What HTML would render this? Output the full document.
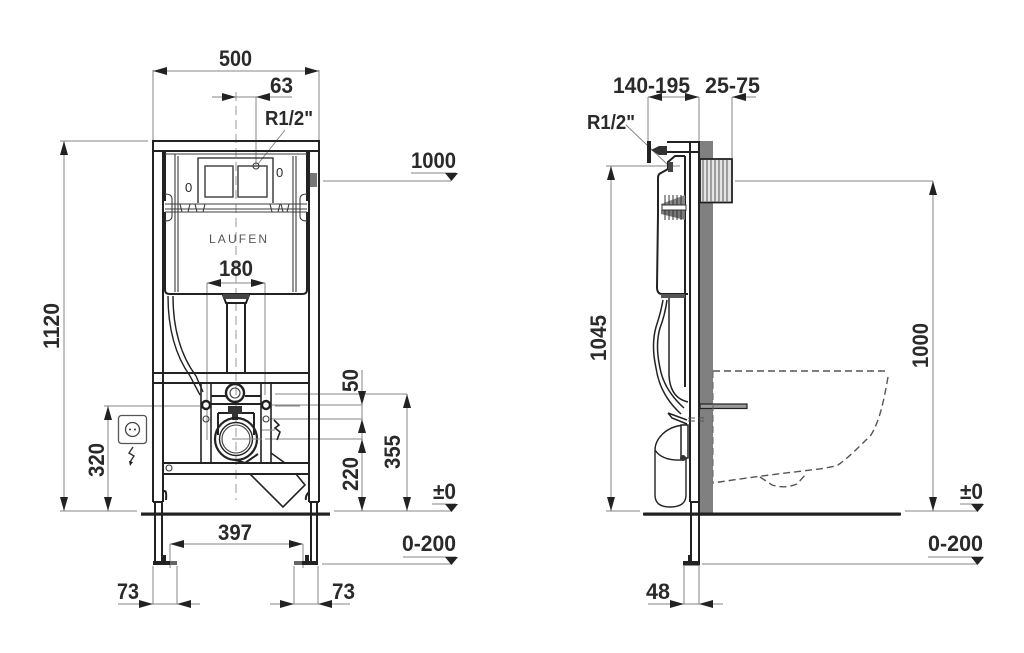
<!DOCTYPE html>
<html><head><meta charset="utf-8"><style>
html,body{margin:0;padding:0;background:#fff;width:1024px;height:653px;overflow:hidden}
svg{display:block;filter:blur(.35px)}
text{font-family:"Liberation Sans",sans-serif;font-weight:bold;fill:#2a2a2a;font-size:22.5px}
.d{stroke:#858585;stroke-width:1;fill:none}
.k{stroke:#222;stroke-width:2;fill:none}
.t{stroke:#3c3c3c;stroke-width:1.1;fill:none}
.c{stroke:#999;stroke-width:1;fill:none;stroke-dasharray:9 5}
.b{stroke:#555;stroke-width:1.4;fill:none;stroke-dasharray:7 4}
</style></head><body>
<svg width="1024" height="653" viewBox="0 0 1024 653" xmlns="http://www.w3.org/2000/svg">
<defs>
<polygon id="r" points="0,0 -14,-4 -14,4" fill="#222"/>
</defs>

<!-- LEFT dims -->
<path class="d" d="M153 71H319M153 70V141M319 70V141M212 97H292M256 97V165M207 283H265M207 283V440M265 283V395
M64 141V511M60 141H148M60 511H137M108 406V511M104 406H200M275 406H300M170 544H303M170 544V568M303 544V568
M118 604H200M153 566V604M177 566V604M270 604H350M294 566V604M318 566V604
M362 370V511M275 394H407M272 405H362M270 419H362M265 439H362M407 394V511M334 511H452M322 564H452M323 181H451
M285 130L258 164M411 173H456M432 504H456M403 557H456"/>
<path class="c" d="M236 92V500"/>
<g>
<use href="#r" transform="translate(153,71) rotate(180)"/><use href="#r" transform="translate(319,71)"/>
<use href="#r" transform="translate(236,97)"/><use href="#r" transform="translate(256,97) rotate(180)"/>
<use href="#r" transform="translate(207,283) rotate(180)"/><use href="#r" transform="translate(265,283)"/>
<use href="#r" transform="translate(64,141) rotate(-90)"/><use href="#r" transform="translate(64,511) rotate(90)"/>
<use href="#r" transform="translate(108,406) rotate(-90)"/><use href="#r" transform="translate(108,511) rotate(90)"/>
<use href="#r" transform="translate(170,544) rotate(180)"/><use href="#r" transform="translate(303,544)"/>
<use href="#r" transform="translate(153,604)"/><use href="#r" transform="translate(177,604) rotate(180)"/>
<use href="#r" transform="translate(294,604)"/><use href="#r" transform="translate(318,604) rotate(180)"/>
<use href="#r" transform="translate(362,405) rotate(90)"/><use href="#r" transform="translate(362,419) rotate(-90)"/>
<use href="#r" transform="translate(362,439) rotate(-90)"/><use href="#r" transform="translate(362,511) rotate(90)"/>
<use href="#r" transform="translate(407,394) rotate(-90)"/><use href="#r" transform="translate(407,511) rotate(90)"/>
</g>
<polygon points="445,504 458,504 451.500,512" fill="#222"/><polygon points="445,557 458,557 451.500,565" fill="#222"/><polygon points="445,173 458,173 451.500,181" fill="#222"/>

<!-- LEFT frame -->
<path class="k" d="M153 141H319V151H153ZM153 141V502M163 151V502M153 502H163M309 151V502M319 141V502M309 502H319
M155 502V563M162 502V563M311 502V563M317 502V563
M153 373H309M153 383H309M163 463H309M163 474H309"/>
<path d="M162 151h4v50h-4zM306 151h4v50h-4z" fill="#222"/>
<path d="M153 561H170V565H153ZM302 561H318V565H302Z" fill="#222"/>
<path d="M170 561H177V565H170ZM294 561H302V565H294Z" fill="#666"/>
<path d="M162 555h4v6h-4zM305 555h4v6h-4z" fill="#222"/>
<rect x="141" y="512.500" width="189" height="3.200" fill="#222"/>
<!-- cistern -->
<path class="k" d="M165 212V290Q165 294 170 294H302Q307 294 307 290V212"/>
<path class="t" d="M165 154H307M175 154V292M178 156V292M293 156V292M296 156V292M165 204H307M165 209H307M165 212H307"/>
<path class="k" d="M198 203V158H273V203" style="stroke-width:1.3"/>
<rect x="205" y="166" width="28" height="31" class="t" style="stroke-width:1.4"/>
<rect x="238" y="166" width="29" height="31" class="t" style="stroke-width:1.4"/>
<circle cx="256" cy="166" r="3" class="t"/>
<path class="t" d="M165 194Q172 194 172 199V216Q172 221 165 221M307 194Q300 194 300 199V216Q300 221 307 221M180 204l2 8h6l2-8M205 204l-2 8h-6l-2-8M270 204l2 8h6l2-8M281 204l2 8h4l2-8"/>
<rect x="310" y="173" width="7" height="14" fill="#777"/>
<text x="185" y="192" style="font-size:13px;font-weight:normal" fill="#444">0</text>
<text x="276" y="177" style="font-size:13px;font-weight:normal" fill="#444">0</text>
<text x="209" y="243" textLength="58" lengthAdjust="spacing" style="font-size:12px;font-weight:normal;fill:#555">LAUFEN</text>
<!-- pipe -->
<path class="k" d="M223 295H249L246 303H226ZM227 303V372M245 303V372"/>
<path d="M223 294h26v5h-26z" fill="#444"/>
<path class="k" d="M168 296Q168 345 190 376L200 395M173 296Q173 345 196 376L203 392" style="stroke-width:1.4"/>
<!-- lower assembly -->
<path class="k" d="M201 383V463M211 383V463M261 383V463M271 383V463" style="stroke-width:1.6"/>
<path class="k" d="M211 404H261M218 413H254M218 413V435M254 413V435M211 396H227M245 396H261"/>
<circle cx="235" cy="393" r="9" class="k" style="stroke-width:2.4"/><circle cx="235" cy="393" r="5" class="t"/>
<circle cx="206" cy="405" r="4" fill="#fff" stroke="#222" stroke-width="2.4"/><circle cx="266" cy="405" r="4" fill="#fff" stroke="#222" stroke-width="2.4"/>
<circle cx="206" cy="419" r="3" class="t"/><circle cx="266" cy="419" r="3" class="t"/>
<path d="M228 406h14v8h-4v6h-6v-6h-4z" fill="#333"/>
<circle cx="236" cy="439" r="21" class="k" style="stroke-width:2.2"/><circle cx="236" cy="439" r="16.500" class="k" style="stroke-width:1.4"/><circle cx="236" cy="439" r="14" class="t"/>
<path class="k" d="M236 460L245 463L258 454"/>
<path class="k" d="M250 474L283 507L305 485L296 474M271 453L285 463" style="stroke-width:1.6"/>
<circle cx="169" cy="468" r="3" class="t"/>
<path class="k" d="M163 492q4 -4 3 8M309 492q-4 4 -3 8"/>
<path class="d" d="M232 439H262M262 430H275"/>
<path d="M274 420l5 5-4 3 5 4-3 8" fill="none" stroke="#222" stroke-width="1.6"/>
<!-- outlet -->
<rect x="118.500" y="415.500" width="28" height="28" rx="3" fill="none" stroke="#555" stroke-width="1.3"/>
<circle cx="132.500" cy="429.500" r="7" fill="none" stroke="#444" stroke-width="1.3"/>
<circle cx="130" cy="429.500" r="1" fill="#333"/><circle cx="135" cy="429.500" r="1" fill="#333"/>
<path d="M133 447l-4 6 5 3-4 6" fill="none" stroke="#333" stroke-width="1.4"/><polygon points="129,461 133,462 130,466" fill="#222"/>

<!-- LEFT text -->
<text x="219" y="66" textLength="33" lengthAdjust="spacingAndGlyphs">500</text>
<text x="270" y="93" textLength="23" lengthAdjust="spacingAndGlyphs">63</text>
<text x="265" y="125" textLength="48" lengthAdjust="spacingAndGlyphs" style="font-size:20px">R1/2"</text>
<text x="219" y="276" textLength="34" lengthAdjust="spacingAndGlyphs">180</text>
<text x="218" y="540" textLength="34" lengthAdjust="spacingAndGlyphs">397</text>
<text x="117" y="599" textLength="22" lengthAdjust="spacingAndGlyphs">73</text>
<text x="332" y="599" textLength="23" lengthAdjust="spacingAndGlyphs">73</text>
<text x="411" y="168" textLength="45" lengthAdjust="spacingAndGlyphs">1000</text>
<text x="433" y="499" textLength="23" lengthAdjust="spacingAndGlyphs">±0</text>
<text x="402" y="551" textLength="54" lengthAdjust="spacingAndGlyphs">0-200</text>
<text transform="translate(59,349) rotate(-90)" textLength="46" lengthAdjust="spacingAndGlyphs">1120</text>
<text transform="translate(104,477) rotate(-90)" textLength="34" lengthAdjust="spacingAndGlyphs">320</text>
<text transform="translate(358,392) rotate(-90)" textLength="23" lengthAdjust="spacingAndGlyphs">50</text>
<text transform="translate(358,491) rotate(-90)" textLength="34" lengthAdjust="spacingAndGlyphs">220</text>
<text transform="translate(400,469) rotate(-90)" textLength="34" lengthAdjust="spacingAndGlyphs">355</text>

<!-- RIGHT -->
<rect x="699" y="141" width="14" height="372" fill="#808080"/>
<path class="d" d="M648 97H699M648 97V142M699 97V141M732 97H756M732 97V158M626 125L668 165M611 166V511M606 166H680M606 511H640M735 181H933M933 181V511M905 511H978M702 564H978M960 504H983M928 557H983M684 566V604M699 566V604M648 604H723"/>
<use href="#r" transform="translate(648,97) rotate(180)"/><use href="#r" transform="translate(699,97)"/>
<use href="#r" transform="translate(732,97) rotate(180)"/>
<use href="#r" transform="translate(611,166) rotate(-90)"/><use href="#r" transform="translate(611,511) rotate(90)"/>
<use href="#r" transform="translate(933,181) rotate(-90)"/><use href="#r" transform="translate(933,511) rotate(90)"/>
<use href="#r" transform="translate(684,604)"/><use href="#r" transform="translate(699,604) rotate(180)"/>
<polygon points="971,504 984,504 977.500,512" fill="#222"/><polygon points="971,557 984,557 977.500,565" fill="#222"/>
<!-- box -->
<rect x="700" y="159" width="32" height="43.500" fill="#e4e4e4" stroke="#222" stroke-width="1.8"/>
<path d="M703 160V202M707 160V202M711 160V202M715 160V202M719 160V202M723 160V202M727 160V202" stroke="#777" stroke-width="1.3"/>
<!-- frame -->
<path class="k" d="M667 142H699V152H667M690 142V502M699 142V502M690 502H699M691 502V562M699 502V562"/>
<rect x="647" y="141" width="4" height="22" fill="#222"/>
<path d="M651 150l8-4h8v9h-8z" fill="#333"/>
<rect x="683" y="561" width="17" height="4.500" fill="#222"/>
<rect x="688" y="555" width="3" height="6" fill="#222"/>
<rect x="643" y="512.500" width="258" height="3.200" rx="1" fill="#222"/>
<!-- tank -->
<path class="k" d="M685 156H675L668 162V169L661 173Q658 174 658 178V214L657 287Q657 294 662 294H688"/>
<path class="k" d="M685 156V387"/>
<path d="M668 162h5v10h-5z" fill="#444"/>
<path d="M661 204L685 195V205H661Z" fill="#888"/>
<path d="M661 210H685V220L661 214Z" fill="#777"/>
<path d="M665 195V220M669 195V220M673 195V220M677 195V220M681 195V220" stroke="#333" stroke-width="1"/>
<rect x="662" y="205" width="24" height="5" fill="#fff" stroke="#333" stroke-width="1"/>
<path d="M661 294H685V298H661Z" fill="#555"/>
<!-- hose -->
<path class="k" d="M663 300Q661 312 656 327Q651 345 656 368Q660 395 681 414" style="stroke-width:1.5"/>
<path class="k" d="M667 300Q665 315 660 328Q655 345 660 368Q664 390 684 408" style="stroke-width:1.5"/>
<path class="k" d="M669 298V375Q670 398 688 402" style="stroke-width:1.5"/>
<path class="k" d="M668 413L687 420M668 413L672 418L687 424" style="stroke-width:1.5"/>
<!-- bottle -->
<path class="k" d="M685 425C665 426 655 440 655 450V495Q655 507 670 507Q686 507 686 495V458M655 450Q662 461 682 460" style="stroke-width:1.4"/>
<rect x="681" y="425" width="7" height="33" fill="#fff" stroke="#222" stroke-width="1.500"/>
<circle cx="683" cy="458" r="3" fill="#333"/>
<!-- bracket -->
<rect x="700" y="404" width="47" height="4.500" fill="#999" stroke="#222" stroke-width="1.200"/>
<path class="b" d="M688 418H704M688 421H704" style="stroke-width:1"/>
<!-- bowl -->
<path class="b" d="M713 371H888"/>
<path class="b" d="M888 377C884 400 880 420 871 435C858 448 848 458 838 465C825 470 790 471 713 483"/>
<path class="b" d="M760 477L772 485Q785 489 797 484L806 474"/>
<path class="b" d="M713 371V483" style="stroke-width:1;stroke:#666"/>

<!-- RIGHT text -->
<text x="613" y="93" textLength="77" lengthAdjust="spacingAndGlyphs">140-195</text>
<text x="705" y="93" textLength="55" lengthAdjust="spacingAndGlyphs">25-75</text>
<text x="587" y="129" textLength="48" lengthAdjust="spacingAndGlyphs" style="font-size:20px">R1/2"</text>
<text x="646" y="599" textLength="24" lengthAdjust="spacingAndGlyphs">48</text>
<text x="960" y="499" textLength="23" lengthAdjust="spacingAndGlyphs">±0</text>
<text x="928" y="551" textLength="55" lengthAdjust="spacingAndGlyphs">0-200</text>
<text transform="translate(606,361) rotate(-90)" textLength="46" lengthAdjust="spacingAndGlyphs">1045</text>
<text transform="translate(928,368) rotate(-90)" textLength="45" lengthAdjust="spacingAndGlyphs">1000</text>
</svg>
</body></html>
